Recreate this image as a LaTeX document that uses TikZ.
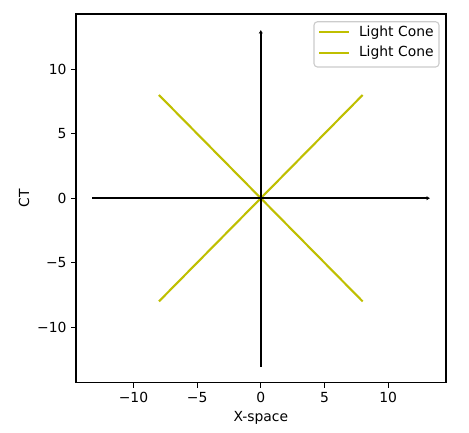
\documentclass[tikz,border=0pt]{standalone}
\usepackage{xcolor}
\usepackage{fontspec}
\setmainfont{DejaVu Sans}
\usepackage{tikz}
\usetikzlibrary{arrows.meta}

\definecolor{conecol}{rgb}{0.75,0.75,0}
\tikzset{
  ticklbl/.style={inner sep=0pt,outer sep=0pt,font=\fontsize{10}{12}\selectfont},
  tickmark/.style={draw=black,line width=0.8pt},
  conline/.style={draw=conecol,line width=1.5pt},
  axarrow/.style={draw=black,line width=1.4pt,-{Latex[length=2.6pt,width=3.2pt]}}
}

\begin{document}
\begin{tikzpicture}[x=.72pt,y=-.72pt]
\path[use as bounding box] (0,0) rectangle (469,432);
\path[fill=white,draw=none] (0,0) rectangle (469,432);
% axes frame
\coordinate (frameNW) at (76,14);
\coordinate (frameSE) at (446,382.7);
\begin{scope}[shift={(260.8,198.2)},x=9.166pt,y=9.288pt]
% light cone
\coordinate (coneA) at (-8,8);
\coordinate (coneB) at (8,-8);
\coordinate (coneC) at (-8,-8);
\coordinate (coneD) at (8,8);
\path[conline] (coneA) -- (coneB);
\path[conline] (coneC) -- (coneD);
% space and time arrows
\coordinate (xtail) at (-13.25,0);
\coordinate (xhead) at (13.3,0);
\coordinate (ttail) at (0,-13.05);
\coordinate (thead) at (0,13.05);
\draw[axarrow] (xtail) -- (xhead);
\draw[axarrow] (ttail) -- (thead);
% ticks
\foreach \v/\lbl [count=\i] in {-10/{−10},-5/{−5},0/{0},5/{5},10/{10}}{
  \draw[tickmark] (\v,-14.3) -- ++(0,-3.5pt);
  \node[ticklbl,anchor=north] (xtick\i) at ([yshift=-7pt]\v,-14.3) {\lbl};
  \draw[tickmark] (-14.5,\v) -- ++(-3.5pt,0);
  \node[ticklbl,anchor=east] (ytick\i) at ([xshift=-7pt]-14.5,\v) {\lbl};
}
\end{scope}
\draw[draw=black,line width=0.8pt] (frameNW) rectangle (frameSE);
% axis labels
\node[ticklbl] (xlabel) at (260.8,418) {X-space};
\node[ticklbl,rotate=90] (ylabel) at (24,198) {CT};
% legend
\path[fill=white,fill opacity=0.8,draw={rgb,255:red,204;green,204;blue,204},line width=0.8pt,rounded corners=2.5pt] (314,21.7) rectangle (439,67);
\coordinate (leg1a) at (319,32.3);
\coordinate (leg1b) at (349,32.3);
\coordinate (leg2a) at (319,52.7);
\coordinate (leg2b) at (349,52.7);
\path[conline] (leg1a) -- (leg1b);
\path[conline] (leg2a) -- (leg2b);
\node[ticklbl,anchor=west] (legtxt1) at (359,32.3) {Light Cone};
\node[ticklbl,anchor=west] (legtxt2) at (359,52.7) {Light Cone};
\end{tikzpicture}
\end{document}
